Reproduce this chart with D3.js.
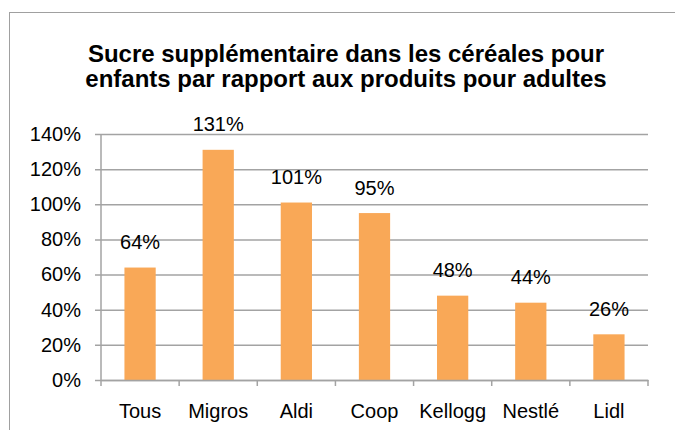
<!DOCTYPE html>
<html>
<head>
<meta charset="utf-8">
<script src="https://cdn.jsdelivr.net/npm/d3@7"></script>
<style>
  html, body { margin: 0; padding: 0; background: #fff; }
  svg { display: block; font-family: "Liberation Sans", Arial, sans-serif; }
</style>
</head>
<body>
<svg id="chart" width="675" height="430"></svg>
<script>
const categories = ["Tous", "Migros", "Aldi", "Coop", "Kellogg", "Nestlé", "Lidl"];
const values = [64, 131, 101, 95, 48, 44, 26];
const yTicks = [0, 20, 40, 60, 80, 100, 120, 140];
const titleLines = ["Sucre supplémentaire dans les céréales pour", "enfants par rapport aux produits pour adultes"];

const svg = d3.select("#chart");
const plot = { left: 101, right: 648, top: 134, bottom: 380 };

// chart frame (extends beyond the visible area at right and bottom)
svg.append("rect")
  .attr("x", 9.5).attr("y", 12.5)
  .attr("width", 690).attr("height", 440)
  .attr("fill", "#fff").attr("stroke", "#a0a0a0").attr("stroke-width", 1);

// title
svg.append("g").selectAll("text").data(titleLines).join("text")
  .attr("x", 346).attr("y", (d, i) => 62 + i * 25)
  .attr("text-anchor", "middle")
  .attr("font-weight", "bold").attr("font-size", 24)
  .attr("fill", "#000")
  .text(d => d);

const x = d3.scaleBand().domain(categories)
  .range([plot.left, plot.right])
  .paddingInner(0.6).paddingOuter(0.3);
const y = d3.scaleLinear().domain([0, 140]).range([plot.bottom, plot.top]);

// gridlines + y axis labels
const yAxis = d3.axisLeft(y).tickValues(yTicks)
  .tickSize(-(plot.right - plot.left + 6)).tickPadding(14)
  .tickFormat(d => d + "%");
const gy = svg.append("g").attr("transform", `translate(${plot.left - 6},0)`).call(yAxis);
gy.select(".domain").remove();
gy.selectAll(".tick line").attr("stroke", "#a3a3a3").attr("stroke-width", 1.5);
gy.selectAll(".tick text").attr("font-size", 20).attr("fill", "#000")
  .attr("font-family", "'Liberation Sans', Arial, sans-serif");

// y axis line
svg.append("line")
  .attr("x1", plot.left).attr("x2", plot.left)
  .attr("y1", plot.top).attr("y2", plot.bottom)
  .attr("stroke", "#a3a3a3").attr("stroke-width", 1.5);

// bars
svg.append("g").selectAll("rect").data(values).join("rect")
  .attr("x", (d, i) => x(categories[i]))
  .attr("y", d => y(d))
  .attr("width", x.bandwidth())
  .attr("height", d => y(0) - y(d))
  .attr("fill", "#f9a857");

// x axis
const gx = svg.append("g").attr("transform", `translate(0,${plot.bottom})`)
  .call(d3.axisBottom(x).tickSize(0).tickPadding(24));
gx.select(".domain").attr("stroke", "#a3a3a3").attr("stroke-width", 1.5);
gx.selectAll(".tick text").attr("font-size", 20).attr("fill", "#000")
  .attr("font-family", "'Liberation Sans', Arial, sans-serif");

// category separator ticks
const edges = [plot.left].concat(
  categories.slice(1).map(c => x(c) - (x.step() - x.bandwidth()) / 2),
  [plot.right]);
svg.append("g").selectAll("line").data(edges).join("line")
  .attr("x1", d => d).attr("x2", d => d)
  .attr("y1", plot.bottom).attr("y2", plot.bottom + 6)
  .attr("stroke", "#a3a3a3").attr("stroke-width", 1.5);

// value labels
svg.append("g").selectAll("text").data(values).join("text")
  .attr("x", (d, i) => x(categories[i]) + x.bandwidth() / 2)
  .attr("y", d => y(d) - 18.5)
  .attr("text-anchor", "middle")
  .attr("font-size", 20).attr("fill", "#000")
  .text(d => d + "%");
</script>
</body>
</html>
